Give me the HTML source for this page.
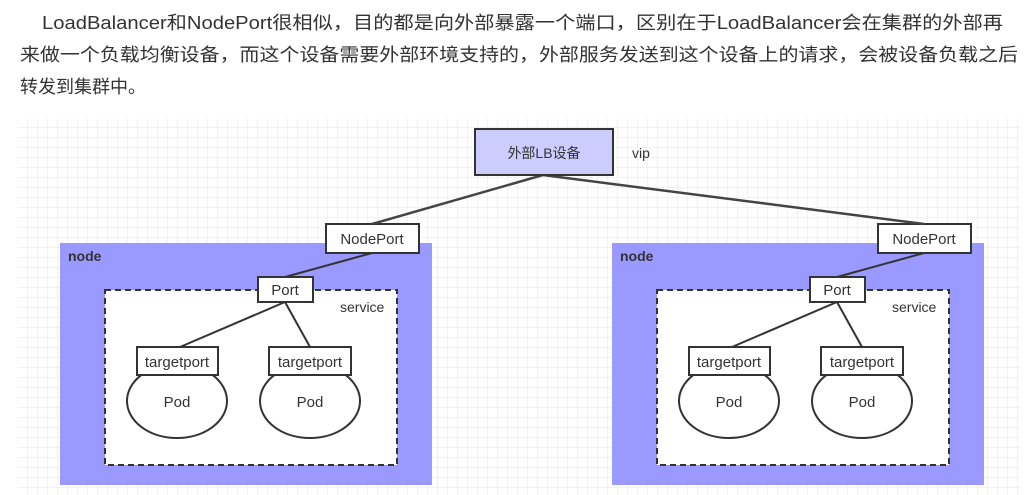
<!DOCTYPE html>
<html><head><meta charset="utf-8"><style>
body{margin:0;width:1035px;height:495px;background:#fff;overflow:hidden;position:relative;font-family:"Liberation Sans","Noto Sans CJK SC",sans-serif}
svg{position:absolute;left:0;top:0}
</style></head><body>
<svg width="1035" height="495" font-family="Liberation Sans,Noto Sans CJK SC,sans-serif">
<defs><pattern id="g" width="10" height="10" patternUnits="userSpaceOnUse" x="18" y="118"><path d="M10 0V10H0" fill="none" stroke="#e6e6e6" stroke-width="1"/></pattern></defs>
<g font-size="18" fill="#333">
<text x="42" y="29" textLength="961" lengthAdjust="spacingAndGlyphs">LoadBalancer和NodePort很相似，目的都是向外部暴露一个端口，区别在于LoadBalancer会在集群的外部再</text>
<text x="20" y="61" textLength="998" lengthAdjust="spacingAndGlyphs">来做一个负载均衡设备，而这个设备需要外部环境支持的，外部服务发送到这个设备上的请求，会被设备负载之后</text>
<text x="20" y="93">转发到集群中。</text>
</g>
<rect x="18" y="118" width="1002" height="377" fill="url(#g)"/>
<g id="n">
<rect x="60" y="243" width="372" height="242" fill="#9999ff"/>
<text x="68" y="261" font-size="14" font-weight="bold" fill="#333">node</text>
<rect x="105" y="290" width="292" height="175" fill="#fff" stroke="#333" stroke-width="2" stroke-dasharray="6,4"/>
<text x="340" y="312" font-size="14" fill="#333">service</text>
<line x1="372" y1="253" x2="285" y2="277" stroke="#333" stroke-width="2"/>
<line x1="285" y1="302" x2="180" y2="347" stroke="#333" stroke-width="2"/>
<line x1="285" y1="302" x2="310" y2="347" stroke="#333" stroke-width="2"/>
<rect x="326" y="224" width="93" height="29" fill="#fff" stroke="#333" stroke-width="2"/>
<text x="372" y="244" font-size="15" fill="#333" text-anchor="middle">NodePort</text>
<rect x="258" y="277" width="55" height="25" fill="#fff" stroke="#333" stroke-width="2"/>
<text x="285" y="295" font-size="15" fill="#333" text-anchor="middle">Port</text>
<ellipse cx="177" cy="401" rx="50" ry="37" fill="#fff" stroke="#333" stroke-width="2"/>
<ellipse cx="310" cy="401" rx="50" ry="37" fill="#fff" stroke="#333" stroke-width="2"/>
<rect x="137" y="347" width="81" height="28" fill="#fff" stroke="#333" stroke-width="2"/>
<rect x="269" y="347" width="82" height="28" fill="#fff" stroke="#333" stroke-width="2"/>
<text x="177" y="367" font-size="15" fill="#333" text-anchor="middle">targetport</text>
<text x="310" y="367" font-size="15" fill="#333" text-anchor="middle">targetport</text>
<text x="177" y="407" font-size="15" fill="#333" text-anchor="middle">Pod</text>
<text x="310" y="407" font-size="15" fill="#333" text-anchor="middle">Pod</text>
</g>
<use href="#n" x="552"/>
<line x1="543" y1="175" x2="372" y2="224" stroke="#444" stroke-width="2.5"/>
<line x1="543" y1="175" x2="924" y2="224" stroke="#444" stroke-width="2.5"/>
<rect x="475" y="129" width="138" height="46" fill="#ccccff" stroke="#333" stroke-width="2"/>
<text x="544" y="158" font-size="14" fill="#333" text-anchor="middle">外部LB设备</text>
<text x="632" y="158" font-size="14" fill="#333">vip</text>
</svg>
</body></html>
